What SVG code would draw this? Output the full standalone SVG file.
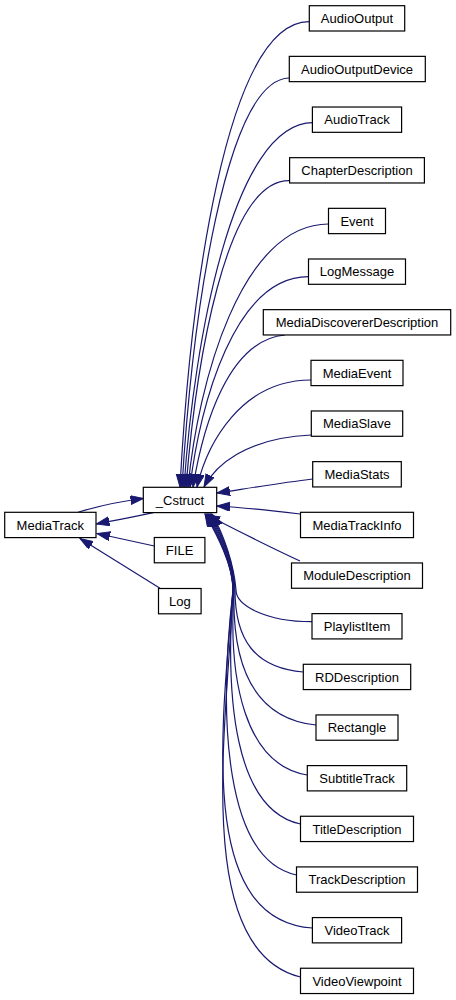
<svg xmlns="http://www.w3.org/2000/svg" width="456" height="1000" viewBox="0 0 456 1000">
<style>
.n rect{fill:#fff;stroke:#000;stroke-width:1.2}
.n text{font-family:"Liberation Sans",Arial,sans-serif;font-size:13px;text-anchor:middle;fill:#000}
.e path{fill:none;stroke:#191970;stroke-width:1.2;marker-end:url(#ah)}
</style>
<defs>
<marker id="ah" markerUnits="userSpaceOnUse" markerWidth="14" markerHeight="10" refX="13" refY="4.5" orient="auto">
<path d="M0,0 L13,4.5 L0,9 z" fill="#191970" stroke="#191970" stroke-width="1"/>
</marker>
</defs>
<rect width="456" height="1000" fill="#fff"/>
<g id="edges" class="e">
<path d="M78,512.3 C95,507 115,502 143.5,498.5"/>
<path d="M153.3,512.7 C135,517 115,520 96.5,524"/>
<path d="M154.3,546 L97,533.5"/>
<path d="M160,588.3 L80,538.5"/>
<path d="M309,21.7 C225,22 190,300 180,487"/>
<path d="M289,78 C225,80 192,320 182,487"/>
<path d="M313,122.7 C233,122.7 194,341 184,487"/>
<path d="M289,180.7 C225,180.7 196,364 186,487"/>
<path d="M328.5,224 C241,224 198,382 188,487"/>
<path d="M308.5,276.7 C235,276.7 200,403 190,487"/>
<path d="M285,335 C228,340 203,426 193,487"/>
<path d="M311,380 C241,380 207,444 197,487"/>
<path d="M311.3,435 C245,438 215,466 204,487"/>
<path d="M312.7,479 C280,483 250,488 217,493"/>
<path d="M300.5,514 C275,511 250,508 217,506"/>
<path d="M300,561 C270,547 240,532 207,515"/>
<path d="M312,621.7 C265,621.7 236,605 236,590 C234,565 224,535 212,514"/>
<path d="M303.3,672 C255,668 235,640 235,590 C234,565 223,535 211,514"/>
<path d="M316,725 C250,718 232,660 234,590 C234,565 222,535 210,514"/>
<path d="M307.3,775 C245,765 228,680 234,590 C234,565 221,535 209,514"/>
<path d="M300.5,824 C235,810 225,700 233,590 C233,565 220,535 208,514"/>
<path d="M296.5,875 C225,860 218,720 233,590 C233,565 219,535 207,514"/>
<path d="M312.4,928 C200,920 220,740 233,590 C233,565 218,535 206,514"/>
<path d="M300.5,977 C190,950 228,720 233,590 C233,565 217,535 205,514"/>
</g>
<g id="MediaTrack" class="n"><rect x="4.7" y="512.3" width="91.3" height="25.3"/><text x="50.3" y="529.6">MediaTrack</text></g>
<g id="Cstruct" class="n"><rect x="143.3" y="487.3" width="73.4" height="25.3"/><text x="180" y="504.6">_Cstruct</text></g>
<g id="FILE" class="n"><rect x="154.3" y="537.5" width="50.6" height="25.3"/><text x="179.6" y="554.8">FILE</text></g>
<g id="Log" class="n"><rect x="158.5" y="588.5" width="42.6" height="25.3"/><text x="179.8" y="605.8">Log</text></g>
<g id="AudioOutput" class="n"><rect x="309.3" y="5.7" width="95.4" height="25.3"/><text x="357" y="23">AudioOutput</text></g>
<g id="AudioOutputDevice" class="n"><rect x="289.3" y="56.36" width="136" height="25.3"/><text x="357" y="73.66">AudioOutputDevice</text></g>
<g id="AudioTrack" class="n"><rect x="312.4" y="107.02" width="89.2" height="25.3"/><text x="357" y="124.32">AudioTrack</text></g>
<g id="ChapterDescription" class="n"><rect x="289.6" y="157.68" width="134.8" height="25.3"/><text x="357" y="174.98">ChapterDescription</text></g>
<g id="Event" class="n"><rect x="328.5" y="208.34" width="57" height="25.3"/><text x="357" y="225.64">Event</text></g>
<g id="LogMessage" class="n"><rect x="308.5" y="259" width="97" height="25.3"/><text x="357" y="276.3">LogMessage</text></g>
<g id="MediaDiscovererDescription" class="n"><rect x="263.3" y="309.66" width="187.4" height="25.3"/><text x="357" y="326.96">MediaDiscovererDescription</text></g>
<g id="MediaEvent" class="n"><rect x="311" y="360.32" width="92" height="25.3"/><text x="357" y="377.62">MediaEvent</text></g>
<g id="MediaSlave" class="n"><rect x="311.3" y="410.98" width="91.4" height="25.3"/><text x="357" y="428.28">MediaSlave</text></g>
<g id="MediaStats" class="n"><rect x="312.7" y="461.64" width="88.6" height="25.3"/><text x="357" y="478.94">MediaStats</text></g>
<g id="MediaTrackInfo" class="n"><rect x="300.5" y="512.3" width="113" height="25.3"/><text x="357" y="529.6">MediaTrackInfo</text></g>
<g id="ModuleDescription" class="n"><rect x="291.5" y="562.96" width="131" height="25.3"/><text x="357" y="580.26">ModuleDescription</text></g>
<g id="PlaylistItem" class="n"><rect x="312" y="613.62" width="90" height="25.3"/><text x="357" y="630.92">PlaylistItem</text></g>
<g id="RDDescription" class="n"><rect x="303.3" y="664.28" width="107.4" height="25.3"/><text x="357" y="681.58">RDDescription</text></g>
<g id="Rectangle" class="n"><rect x="316" y="714.94" width="82" height="25.3"/><text x="357" y="732.24">Rectangle</text></g>
<g id="SubtitleTrack" class="n"><rect x="307.3" y="765.6" width="99.4" height="25.3"/><text x="357" y="782.9">SubtitleTrack</text></g>
<g id="TitleDescription" class="n"><rect x="300.5" y="816.26" width="113" height="25.3"/><text x="357" y="833.56">TitleDescription</text></g>
<g id="TrackDescription" class="n"><rect x="296.5" y="866.92" width="121" height="25.3"/><text x="357" y="884.22">TrackDescription</text></g>
<g id="VideoTrack" class="n"><rect x="312.4" y="917.58" width="89.2" height="25.3"/><text x="357" y="934.88">VideoTrack</text></g>
<g id="VideoViewpoint" class="n"><rect x="300.5" y="968.24" width="113" height="25.3"/><text x="357" y="985.54">VideoViewpoint</text></g>
</svg>
